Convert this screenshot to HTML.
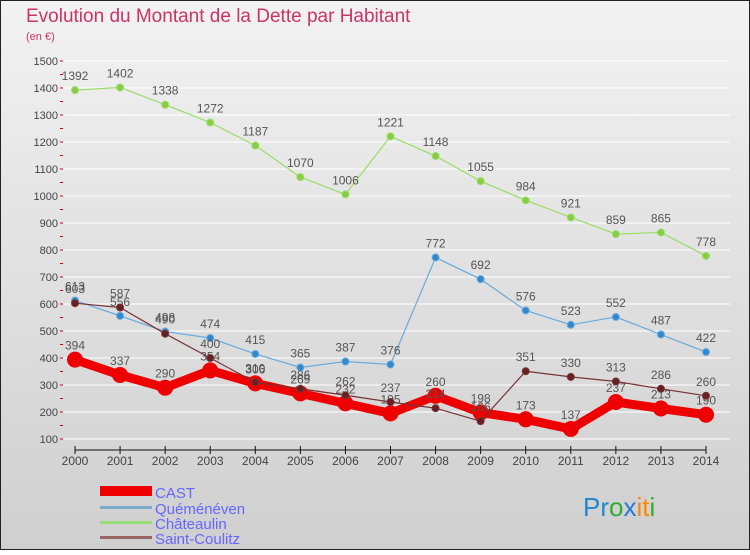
<!DOCTYPE html>
<html><head><meta charset="utf-8"><style>
body{margin:0;width:750px;height:550px;overflow:hidden;font-family:"Liberation Sans",sans-serif}
svg text{font-family:"Liberation Sans",sans-serif}
</style></head><body>
<svg id="c" width="750" height="550" xmlns="http://www.w3.org/2000/svg">
<defs><linearGradient id="bg" x1="0" y1="0" x2="0" y2="1"><stop offset="0" stop-color="#f2f2f2"/><stop offset="1" stop-color="#cfcfcf"/></linearGradient></defs>
<rect x="0.5" y="0.5" width="749" height="549" fill="url(#bg)" stroke="#222"/>
<text x="26" y="22" font-size="19" fill="#cc3366">Evolution du Montant de la Dette par Habitant</text>
<text x="26" y="40" font-size="11" fill="#cc3366">(en €)</text>
<g id="grid"></g><g id="axes"></g><g id="series"></g>
<g>
<rect x="100" y="486" width="52" height="10" fill="#ee0000"/>
<text x="155" y="498" font-size="15" fill="#6666ff">CAST</text>
<rect x="100" y="506" width="52" height="3" fill="#7aaacc"/>
<text x="155" y="514" font-size="15" fill="#6666ff">Quéménéven</text>
<rect x="100" y="521" width="52" height="3" fill="#99dd77"/>
<text x="155" y="529" font-size="15" fill="#6666ff">Châteaulin</text>
<rect x="100" y="536" width="52" height="3" fill="#996666"/>
<text x="155" y="544" font-size="15" fill="#6666ff">Saint-Coulitz</text>
</g>
<g font-size="26">
<text x="583" y="516"><tspan fill="#2288cc">Pr</tspan><tspan fill="#33aa33">o</tspan><tspan fill="#2277dd">x</tspan><tspan fill="#ff8800">it</tspan><tspan fill="#33aa33">i</tspan></text>
</g>
</svg>
<script>
const years=[2000,2001,2002,2003,2004,2005,2006,2007,2008,2009,2010,2011,2012,2013,2014];
const cast=[394,337,290,354,306,269,232,195,260,198,173,137,237,213,190];
const quemeneven=[613,556,498,474,415,365,387,376,772,692,576,523,552,487,422];
const chateaulin=[1392,1402,1338,1272,1187,1070,1006,1221,1148,1055,984,921,859,865,778];
const saintCoulitz=[603,587,490,400,310,286,262,237,214,166,351,330,313,286,260];
const yTicks=[100,200,300,400,500,600,700,800,900,1000,1100,1200,1300,1400,1500];
const NS='http://www.w3.org/2000/svg';
const X=i=>75+i*(631/14);
const Y=v=>439-(v-100)*(378/1400);
function mk(tag,attrs,parent){const e=document.createElementNS(NS,tag);for(const k in attrs)e.setAttribute(k,attrs[k]);parent.appendChild(e);return e;}
const grid=document.getElementById('grid'),axes=document.getElementById('axes'),ser=document.getElementById('series');
yTicks.forEach(t=>{
 const l=mk('line',{x1:62,x2:730,y1:Y(t),y2:Y(t),stroke:'#ffffff','stroke-width':1},grid);
 
 
 const tx=mk('text',{x:58,y:Y(t)+4,'font-size':11,fill:'#444','text-anchor':'end'},axes);
 tx.textContent=t;
 
 
});
for(let v=100;v<=1500;v+=50){mk('line',{x1:60,x2:63,y1:Y(v),y2:Y(v),stroke:'#dd0000'},axes);}
mk('line',{x1:75,x2:706,y1:450,y2:450,stroke:'#111','stroke-width':1},axes);
years.forEach((y,i)=>{
 mk('line',{x1:X(i),x2:X(i),y1:446,y2:454,stroke:'#111'},axes);
 const tx=mk('text',{x:X(i),y:465,'font-size':12,fill:'#444','text-anchor':'middle'},axes);
 tx.textContent=y;
 
 
});
function draw(data,color,width,r,name,dotColor){
 const g=mk('g',{},ser);
 
 
 mk('polyline',{points:data.map((v,i)=>X(i)+','+Y(v)).join(' '),fill:'none',stroke:color,'stroke-width':width,'stroke-linejoin':'round'},g);
 data.forEach((v,i)=>{
  const c=mk('circle',{cx:X(i),cy:Y(v),r:r,fill:dotColor,stroke:color,'stroke-width':1},g);
  
  
  const t=mk('text',{x:X(i),y:Y(v)-10,'font-size':12,fill:'#555','text-anchor':'middle'},g);
  t.textContent=v;
 });
}
draw(chateaulin,'#99dd66',1.2,3.5,'chateaulin','#88cc44');
draw(quemeneven,'#66aadd',1.2,3.5,'quemeneven','#3388cc');
draw(cast,'#ee0000',9,7.5,'cast','#ee0000');
draw(saintCoulitz,'#773333',1.2,3.5,'saint-coulitz','#662222');
</script>
</body></html>
